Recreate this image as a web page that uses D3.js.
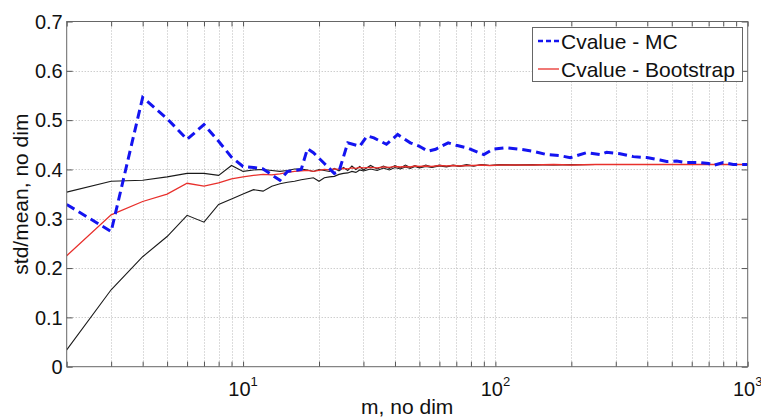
<!DOCTYPE html>
<html>
<head>
<meta charset="utf-8">
<script src="https://cdn.jsdelivr.net/npm/d3@7"></script>
<style>
  body { margin: 0; background: #fff; }
  svg { display: block; font-family: "Liberation Sans", Arial, Helvetica, sans-serif; }
</style>
</head>
<body>
<svg id="chart" width="761" height="420"></svg>
<script>
// Monte Carlo estimate of the coefficient of variation vs sample size m
const mcM  = [2, 3, 4, 5, 6, 7, 8, 9, 10, 11, 12, 14, 15, 17, 18, 19, 21, 23, 24, 26, 29, 31, 33, 37, 41, 46, 50, 54, 58, 65, 70, 77, 90, 98, 111, 125, 141, 160, 180, 198, 230, 260, 276, 312, 352, 398, 449, 477, 523, 573, 647, 700, 730, 800, 876, 1000];
const mcCv = [0.329, 0.274, 0.546, 0.503, 0.461, 0.491, 0.457, 0.425, 0.406, 0.404, 0.401, 0.378, 0.396, 0.400, 0.442, 0.434, 0.412, 0.392, 0.396, 0.454, 0.447, 0.468, 0.464, 0.451, 0.471, 0.454, 0.447, 0.437, 0.441, 0.454, 0.449, 0.444, 0.430, 0.441, 0.444, 0.441, 0.437, 0.430, 0.428, 0.424, 0.434, 0.430, 0.435, 0.432, 0.426, 0.424, 0.419, 0.416, 0.417, 0.414, 0.414, 0.412, 0.408, 0.414, 0.410, 0.410];

// Bootstrap estimate with its lower / upper envelope
const ciM     = [2, 3, 4, 5, 6, 7, 8, 9, 10, 11, 12, 13, 14, 15, 16, 17, 18, 19, 20, 21, 22, 23, 24, 25, 26, 27, 28, 29, 30, 32, 34, 36, 38, 40, 42, 44, 46, 48, 50, 53, 56, 60, 64, 68, 72, 77, 82, 88, 95, 105, 120, 140, 170, 200, 250, 300, 400, 500, 700, 1000];
const bootCv  = [0.225, 0.308, 0.335, 0.350, 0.372, 0.366, 0.373, 0.381, 0.385, 0.388, 0.390, 0.389, 0.391, 0.394, 0.396, 0.397, 0.398, 0.396, 0.398, 0.400, 0.399, 0.401, 0.400, 0.402, 0.401, 0.403, 0.402, 0.404, 0.403, 0.404, 0.403, 0.405, 0.404, 0.406, 0.405, 0.406, 0.405, 0.407, 0.406, 0.407, 0.406, 0.408, 0.407, 0.408, 0.407, 0.408, 0.408, 0.409, 0.408, 0.409, 0.409, 0.409, 0.410, 0.409, 0.410, 0.410, 0.410, 0.410, 0.410, 0.410];
const upperCv = [0.354, 0.376, 0.378, 0.385, 0.392, 0.392, 0.388, 0.408, 0.396, 0.399, 0.400, 0.398, 0.396, 0.398, 0.401, 0.401, 0.399, 0.396, 0.400, 0.398, 0.396, 0.402, 0.397, 0.404, 0.398, 0.407, 0.400, 0.406, 0.399, 0.408, 0.401, 0.407, 0.402, 0.408, 0.403, 0.409, 0.404, 0.408, 0.404, 0.409, 0.405, 0.409, 0.406, 0.409, 0.407, 0.410, 0.407, 0.410, 0.408, 0.410, 0.409, 0.410, 0.409, 0.410, 0.410, 0.410, 0.410, 0.410, 0.410, 0.410];
const lowerCv = [0.034, 0.156, 0.223, 0.264, 0.307, 0.293, 0.329, 0.340, 0.350, 0.359, 0.356, 0.366, 0.371, 0.374, 0.376, 0.379, 0.381, 0.383, 0.376, 0.383, 0.385, 0.386, 0.390, 0.392, 0.393, 0.396, 0.394, 0.399, 0.397, 0.401, 0.398, 0.403, 0.399, 0.404, 0.401, 0.405, 0.402, 0.406, 0.403, 0.406, 0.404, 0.407, 0.405, 0.408, 0.406, 0.408, 0.407, 0.409, 0.408, 0.409, 0.409, 0.409, 0.410, 0.409, 0.410, 0.410, 0.410, 0.410, 0.410, 0.410];

const yTickValues = [0, 0.1, 0.2, 0.3, 0.4, 0.5, 0.6, 0.7];
const xDecades    = [10, 100, 1000];
const legendNames = ["Cvalue - MC", "Cvalue - Bootstrap"];
const xLabel = "m, no dim";
const yLabel = "std/mean, no dim";

const svg = d3.select("#chart");
const plot = { left: 66.7, right: 747.7, top: 21.5, bottom: 366.7 };

const x = d3.scaleLog().domain([2, 1000]).range([plot.left, plot.right]);
const y = d3.scaleLinear().domain([0, 0.7]).range([plot.bottom, plot.top]);

// every 1..9 x 10^k step inside the domain, for log grid and ticks
const logSteps = [];
for (let p = 1; p <= 1000; p *= 10) {
  for (let k = 1; k <= 9; k++) {
    const v = k * p;
    if (v >= 2 && v <= 1000) logSteps.push(v);
  }
}

const grid = svg.append("g").attr("stroke", "#b8b8b8").attr("stroke-width", 1)
  .attr("stroke-dasharray", "1,2").attr("fill", "none");
grid.selectAll("line.gx").data(logSteps.filter(v => v > 2 && v < 1000)).join("line")
  .attr("x1", d => Math.round(x(d)) + 0.5).attr("x2", d => Math.round(x(d)) + 0.5)
  .attr("y1", plot.top).attr("y2", plot.bottom);
grid.selectAll("line.gy").data(yTickValues.filter(v => v > 0 && v < 0.7)).join("line")
  .attr("x1", plot.left).attr("x2", plot.right)
  .attr("y1", d => Math.round(y(d)) + 0.5).attr("y2", d => Math.round(y(d)) + 0.5);

// inward ticks on all four sides
const tickColor = "#555";
function styleAxis(g) {
  g.select(".domain").remove();
  g.selectAll(".tick line").attr("stroke", tickColor);
  g.selectAll(".tick text").remove();
}
svg.append("g").attr("transform", `translate(0,${plot.bottom})`)
  .call(d3.axisBottom(x).tickValues(logSteps).tickSizeInner(-5).tickSizeOuter(0)).call(styleAxis);
svg.append("g").attr("transform", `translate(0,${plot.top})`)
  .call(d3.axisTop(x).tickValues(logSteps).tickSizeInner(-5).tickSizeOuter(0)).call(styleAxis);
svg.append("g").attr("transform", `translate(${plot.left},0)`)
  .call(d3.axisLeft(y).tickValues(yTickValues).tickSizeInner(-6).tickSizeOuter(0)).call(styleAxis);
svg.append("g").attr("transform", `translate(${plot.right},0)`)
  .call(d3.axisRight(y).tickValues(yTickValues).tickSizeInner(-6).tickSizeOuter(0)).call(styleAxis);

// data lines
const line = d3.line().x(d => x(d[0])).y(d => y(d[1]));
svg.append("clipPath").attr("id", "plotclip").append("rect")
  .attr("x", plot.left).attr("y", plot.top)
  .attr("width", plot.right - plot.left).attr("height", plot.bottom - plot.top);
const lines = svg.append("g").attr("clip-path", "url(#plotclip)").attr("fill", "none");

lines.append("path").datum(d3.zip(ciM, upperCv)).attr("d", line)
  .attr("stroke", "#1a1a1a").attr("stroke-width", 1.1);
lines.append("path").datum(d3.zip(ciM, lowerCv)).attr("d", line)
  .attr("stroke", "#1a1a1a").attr("stroke-width", 1.1);
lines.append("path").datum(d3.zip(ciM, bootCv)).attr("d", line)
  .attr("stroke", "#e8302c").attr("stroke-width", 1.3);
lines.append("path").datum(d3.zip(mcM, mcCv)).attr("d", line)
  .attr("stroke", "#1414f0").attr("stroke-width", 3).attr("stroke-dasharray", "9,5");

// plot frame
svg.append("rect").attr("x", plot.left).attr("y", plot.top)
  .attr("width", plot.right - plot.left).attr("height", plot.bottom - plot.top)
  .attr("fill", "none").attr("stroke", "#666").attr("stroke-width", 1);

// tick labels
svg.append("g").selectAll("text").data(yTickValues).join("text")
  .attr("x", plot.left - 4).attr("y", d => y(d)).attr("dy", "0.36em")
  .attr("text-anchor", "end").attr("font-size", 20).attr("fill", "#111")
  .text(d => d3.format(".1~f")(d));

const xt = svg.append("g").selectAll("text").data(xDecades).join("text")
  .attr("x", d => x(d)).attr("y", 396).attr("text-anchor", "middle")
  .attr("font-size", 20).attr("fill", "#111");
xt.append("tspan").text("10");
xt.append("tspan").attr("dy", -10).attr("font-size", 13).text(d => String(Math.round(Math.log10(d))));

// axis titles
svg.append("text").attr("x", (plot.left + plot.right) / 2).attr("y", 414)
  .attr("text-anchor", "middle").attr("font-size", 21).attr("fill", "#111").text(xLabel);
svg.append("text").attr("transform", `translate(28,${(plot.top + plot.bottom) / 2}) rotate(-90)`)
  .attr("text-anchor", "middle").attr("font-size", 21).attr("fill", "#111").text(yLabel);

// legend
const lg = svg.append("g");
lg.append("rect").attr("x", 532.5).attr("y", 27.5).attr("width", 210).attr("height", 54)
  .attr("fill", "#fff").attr("stroke", "#666").attr("stroke-width", 1);
const legendStyles = [
  { color: "#1414f0", width: 2.5, dash: "5,3" },
  { color: "#e8302c", width: 1.3, dash: null }
];
legendNames.forEach((name, i) => {
  const cy = 41 + i * 28;
  lg.append("line").attr("x1", 538).attr("x2", 559).attr("y1", cy).attr("y2", cy)
    .attr("stroke", legendStyles[i].color).attr("stroke-width", legendStyles[i].width)
    .attr("stroke-dasharray", legendStyles[i].dash);
  lg.append("text").attr("x", 561).attr("y", cy).attr("dy", "0.36em")
    .attr("font-size", 21).attr("fill", "#111").text(name);
});
</script>
</body>
</html>
